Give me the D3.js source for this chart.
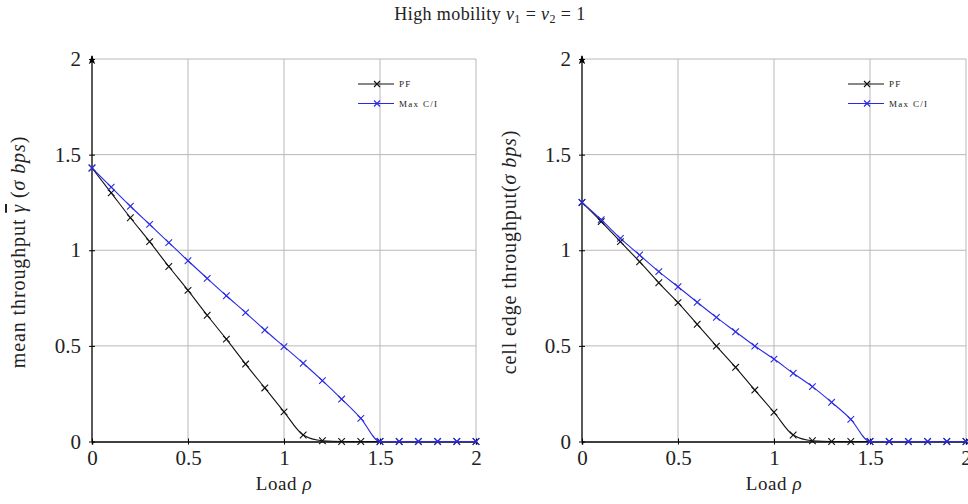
<!DOCTYPE html>
<html>
<head>
<meta charset="utf-8">
<script src="https://cdn.jsdelivr.net/npm/d3@7/dist/d3.min.js"></script>
<style>
  html, body { margin: 0; padding: 0; background: #fff; }
  svg { display: block; }
  text { font-family: "Liberation Serif", "DejaVu Serif", serif; fill: #222; }
</style>
</head>
<body>
<svg id="chart" width="968" height="504"></svg>
<script>
// Load values rho = 0, 0.1, ..., 2
const load = [0,0.1,0.2,0.3,0.4,0.5,0.6,0.7,0.8,0.9,1.0,1.1,1.2,1.3,1.4,1.5,1.6,1.7,1.8,1.9,2.0];

// Mean throughput
const meanPF    = [1.43,1.30,1.17,1.045,0.915,0.79,0.66,0.535,0.405,0.28,0.155,0.034,0.004,0,0,0,0,0,0,0,0];
const meanMaxCI = [1.43,1.33,1.23,1.135,1.04,0.945,0.853,0.762,0.674,0.583,0.496,0.409,0.318,0.222,0.121,0,0,0,0,0,0];

// Cell edge throughput
const edgePF    = [1.25,1.15,1.045,0.94,0.83,0.726,0.613,0.499,0.388,0.269,0.153,0.034,0.004,0,0,0,0,0,0,0,0];
const edgeMaxCI = [1.25,1.16,1.062,0.975,0.888,0.809,0.728,0.649,0.574,0.499,0.431,0.357,0.287,0.205,0.116,0,0,0,0,0,0];

const xTicks = [0, 0.5, 1, 1.5, 2];
const yTicks = [0, 0.5, 1, 1.5, 2];
const seriesNames = ["PF", "Max C/I"];
const seriesColors = ["#111111", "#2a2ae6"];

const svg = d3.select("#chart");

svg.append("text")
  .attr("x", 490).attr("y", 20)
  .attr("text-anchor", "middle")
  .attr("font-size", 18).attr("letter-spacing", 0.4)
  .call(t => {
    t.append("tspan").text("High mobility ");
    t.append("tspan").attr("font-style", "italic").text("ν");
    t.append("tspan").attr("font-size", 12).attr("dy", 3).text("1");
    t.append("tspan").attr("dy", -3).text(" = ");
    t.append("tspan").attr("font-style", "italic").text("ν");
    t.append("tspan").attr("font-size", 12).attr("dy", 3).text("2");
    t.append("tspan").attr("dy", -3).text(" = 1");
  });

const defs = svg.append("defs");
defs.append("marker")
  .attr("id", "arrow")
  .attr("viewBox", "0 0 10 10")
  .attr("refX", 9).attr("refY", 5)
  .attr("markerWidth", 7).attr("markerHeight", 7)
  .attr("orient", "auto")
  .append("path").attr("d", "M0,1.5 L10,5 L0,8.5 L2.5,5 Z").attr("fill", "#000");

function panel(x0, x1, ySeries, labelBuilder, labelX) {
  const top = 59, bottom = 441.5;
  const x = d3.scaleLinear().domain([0, 2]).range([x0, x1]);
  const y = d3.scaleLinear().domain([0, 2]).range([bottom, top]);
  const g = svg.append("g");

  // grid
  g.append("g").selectAll("line.gx").data(xTicks.slice(1)).join("line")
    .attr("x1", d => x(d)).attr("x2", d => x(d))
    .attr("y1", bottom).attr("y2", top)
    .attr("stroke", "#b8b8b8").attr("stroke-width", 1);
  g.append("g").selectAll("line.gy").data(yTicks.slice(1)).join("line")
    .attr("x1", x0).attr("x2", x1)
    .attr("y1", d => y(d)).attr("y2", d => y(d))
    .attr("stroke", "#b8b8b8").attr("stroke-width", 1);

  // axes
  const xAxis = d3.axisBottom(x).tickValues(xTicks).tickSize(3).tickFormat(d3.format("~g"));
  const gx = g.append("g").attr("transform", `translate(0,${bottom})`).call(xAxis);
  gx.select(".domain").attr("stroke", "#000").attr("stroke-width", 1.6);
  gx.selectAll(".tick line").attr("stroke", "#000").attr("transform", "translate(0,-3)").attr("y2", 6);
  gx.selectAll(".tick text").attr("font-size", 21).attr("dy", null).attr("y", 23)
    .attr("font-family", "'Liberation Serif', serif").attr("fill", "#222");

  const yAxis = d3.axisLeft(y).tickValues(yTicks).tickSize(3).tickFormat(d3.format("~g"));
  const gy = g.append("g").attr("transform", `translate(${x0},0)`).call(yAxis);
  gy.select(".domain").remove();
  gy.selectAll(".tick line").attr("stroke", "#000").attr("x1", 3).attr("x2", -3);
  gy.selectAll(".tick text").attr("font-size", 21).attr("x", -11)
    .attr("font-family", "'Liberation Serif', serif").attr("fill", "#222");
  g.append("line")
    .attr("x1", x0).attr("x2", x0).attr("y1", bottom).attr("y2", top - 3)
    .attr("stroke", "#000").attr("stroke-width", 1.3)
    .attr("marker-end", "url(#arrow)");

  // series
  const line = d3.line().x((d, i) => x(load[i])).y(d => y(d)).curve(d3.curveMonotoneX);
  ySeries.forEach((vals, si) => {
    const col = seriesColors[si];
    g.append("path").datum(vals)
      .attr("d", line).attr("fill", "none")
      .attr("stroke", col).attr("stroke-width", 1.1);
    const s = 3.3;
    g.append("g").selectAll("path").data(vals).join("path")
      .attr("d", (d, i) => {
        const cx = x(load[i]), cy = y(d);
        return `M${cx - s},${cy - s}L${cx + s},${cy + s}M${cx - s},${cy + s}L${cx + s},${cy - s}`;
      })
      .attr("stroke", col).attr("stroke-width", 1.1).attr("fill", "none");
  });

  // legend
  const lx = x0 + 266;
  seriesNames.forEach((name, si) => {
    const ly = 84 + si * 19.5;
    const col = seriesColors[si];
    g.append("line").attr("x1", lx).attr("x2", lx + 36).attr("y1", ly).attr("y2", ly)
      .attr("stroke", col).attr("stroke-width", 1.1);
    const s = 3, cx = lx + 19;
    g.append("path")
      .attr("d", `M${cx - s},${ly - s}L${cx + s},${ly + s}M${cx - s},${ly + s}L${cx + s},${ly - s}`)
      .attr("stroke", col).attr("stroke-width", 1.1);
    g.append("text").attr("x", lx + 41).attr("y", ly + 3)
      .attr("font-size", 9).attr("letter-spacing", 1.3).attr("fill", "#333")
      .text(name);
  });

  // axis titles
  g.append("text").attr("x", (x0 + x1) / 2).attr("y", 490)
    .attr("text-anchor", "middle").attr("font-size", 19).attr("letter-spacing", 0.6)
    .call(t => {
      t.append("tspan").text("Load ");
      t.append("tspan").attr("font-style", "italic").text("ρ");
    });

  g.append("text")
    .attr("transform", `translate(${labelX},252) rotate(-90)`)
    .attr("text-anchor", "middle").attr("font-size", 20).attr("letter-spacing", 0.9)
    .call(labelBuilder);
}

panel(92, 476, [meanPF, meanMaxCI], t => {
  t.append("tspan").text("mean throughput ");
  t.append("tspan").attr("font-style", "italic").style("text-decoration", "overline").text("γ");
  t.append("tspan").text(" (");
  t.append("tspan").attr("font-style", "italic").text("σ bps");
  t.append("tspan").text(")");
}, 25);

panel(582, 966, [edgePF, edgeMaxCI], t => {
  t.append("tspan").text("cell edge throughput(");
  t.append("tspan").attr("font-style", "italic").text("σ bps");
  t.append("tspan").text(")");
}, 516);
</script>
</body>
</html>
